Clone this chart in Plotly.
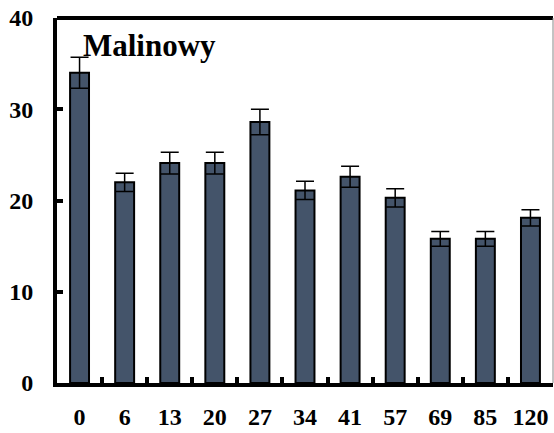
import plotly.graph_objects as go

# Sampling days and mean values with their standard errors
days = ["0", "6", "13", "20", "27", "34", "41", "57", "69", "85", "120"]
means = [34.0, 22.0, 24.1, 24.1, 28.6, 21.1, 22.6, 20.3, 15.8, 15.8, 18.1]
errors = [1.7, 1.0, 1.2, 1.2, 1.4, 1.0, 1.15, 1.0, 0.8, 0.8, 0.9]
y_ticks = [0, 10, 20, 30, 40]
title_text = "Malinowy"

FONT = "Liberation Serif"
TICK_SIZE = 24

fig = go.Figure(
    go.Bar(
        x=days,
        y=means,
        marker=dict(color="#44546a", line=dict(color="black", width=2)),
        error_y=dict(type="data", array=errors, color="black", thickness=1.5, width=9),
    )
)

fig.update_layout(
    width=554,
    height=433,
    margin=dict(l=57, r=1, t=18, b=50),
    paper_bgcolor="white",
    plot_bgcolor="white",
    bargap=0.58,
    showlegend=False,
    font=dict(family=FONT, size=TICK_SIZE, color="black"),
)

fig.update_xaxes(
    type="category",
    showline=True,
    linecolor="black",
    linewidth=4,
    ticks="inside",
    tickson="boundaries",
    ticklen=6,
    tickwidth=4,
    tickcolor="black",
    tickangle=0,
    automargin=False,
    ticklabelstandoff=9,
    tickfont=dict(family=FONT, size=TICK_SIZE, color="black", weight="bold"),
    showgrid=False,
)

fig.update_yaxes(
    range=[0, 40],
    tickvals=y_ticks,
    showline=True,
    linecolor="black",
    linewidth=4,
    ticks="inside",
    ticklen=6,
    tickwidth=4,
    tickcolor="black",
    automargin=False,
    ticklabelstandoff=15,
    tickfont=dict(family=FONT, size=TICK_SIZE, color="black", weight="bold"),
    showgrid=False,
    zeroline=False,
)

# Heavy top border and thin right border of the plot frame
fig.add_shape(type="line", xref="paper", yref="paper", x0=0, x1=1, y0=1, y1=1,
              line=dict(color="black", width=4))
fig.add_shape(type="line", xref="paper", yref="paper", x0=1, x1=1, y0=0, y1=1,
              line=dict(color="#888888", width=1))

fig.add_annotation(
    text=title_text,
    xref="paper", yref="paper",
    x=0.048, y=0.926,
    xanchor="left", yanchor="middle",
    showarrow=False,
    font=dict(family=FONT, size=31, color="black", weight="bold"),
)

fig.write_html("out.html")
